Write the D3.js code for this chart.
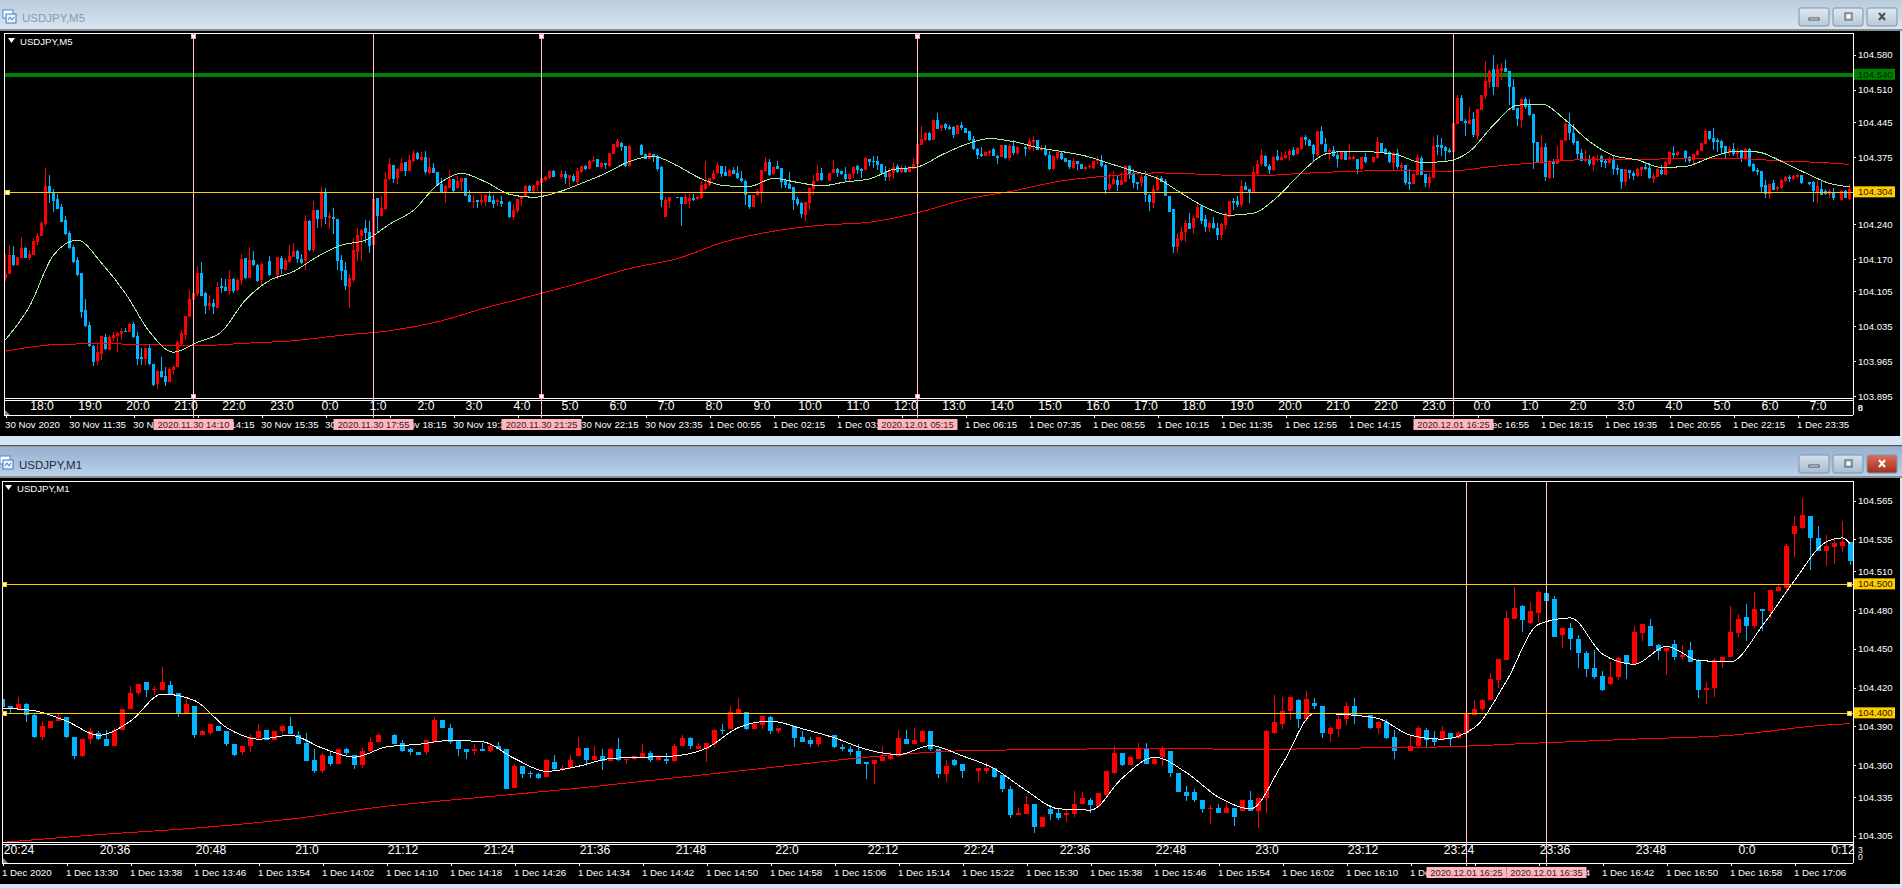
<!DOCTYPE html>
<html>
<head>
<meta charset="utf-8">
<script src="https://cdn.jsdelivr.net/npm/d3@7"></script>
<style>
  html, body { margin: 0; padding: 0; background: #d6e5f3; overflow: hidden; }
  text { font-family: "Liberation Sans", Arial, sans-serif; }
</style>
</head>
<body>
<svg id="chart" width="1902" height="888"></svg>
<script>
// all series are points above 104.000 (304 = 104.304), null = bar with nothing drawn
const m5Open = [
131,140,178,158,173,192,173,178,204,216,240,317,
302,291,275,249,222,194,168,142,68,38,-4,-34,
-20,14,-12,11,16,20,26,24,40,16,-26,-30,
-8,-40,-81,-55,-65,-77,-53,-47,0,18,54,88,
100,142,102,76,82,72,116,114,106,130,108,128,
172,132,168,158,128,null,166,null,138,172,148,164,
174,186,170,166,246,188,268,250,303,253,254,250,
168,148,114,128,184,216,232,224,198,292,256,270,
331,359,333,347,365,347,367,383,369,375,343,353,
345,321,305,313,331,313,325,333,299,285,289,285,
285,297,289,285,287,null,285,254,266,290,295,317,
307,319,323,329,333,347,null,335,341,333,337,325,
345,357,351,367,371,355,363,357,381,395,403,397,
357,null,null,399,381,371,381,377,355,255,287,null,
295,295,281,287,293,291,293,311,319,331,343,357,
345,337,349,343,333,327,299,275,299,305,347,365,
341,357,353,329,321,315,291,283,259,283,311,327,
343,null,327,343,351,347,341,331,341,357,351,349,
371,367,367,361,345,335,343,357,345,353,345,351,
361,399,409,423,409,449,433,441,435,435,421,439,
433,427,411,391,381,377,383,391,377,375,399,373,
397,383,null,395,391,405,409,389,391,379,351,373,
383,373,369,353,367,361,351,355,353,367,369,359,
311,321,329,319,325,357,343,325,323,337,299,283,
309,333,327,297,271,194,208,224,242,232,252,277,
250,232,242,232,218,238,254,287,287,279,317,311,
303,341,361,377,357,349,377,369,373,379,389,381,
391,415,409,399,379,427,401,385,389,379,371,387,
371,371,371,351,375,null,365,373,403,391,385,363,
383,353,359,325,321,339,373,341,323,333,399,399,
395,389,385,441,493,447,441,451,417,469,497,525,
552,515,547,554,547,515,473,449,491,479,461,405,
363,395,333,367,361,369,407,441,423,407,383,367,
369,359,369,377,367,363,371,353,351,325,349,343,
337,349,355,353,331,335,349,339,361,383,379,null,
387,375,369,379,387,401,427,413,409,407,397,383,
391,381,389,371,391,361,349,347,319,301,323,311,
313,327,335,331,335,339,null,325,325,303,311,307,
301,305,null,289,307,291];
const m5Close = [
141,178,158,174,192,173,180,206,216,242,317,302,
287,271,245,220,192,164,138,64,36,-4,-36,-16,
16,-11,14,18,22,26,24,40,14,-30,-30,-8,
-40,-83,-55,-67,-77,-51,-47,3,22,56,90,102,
142,96,76,82,74,114,112,106,130,106,128,170,
132,168,158,126,160,null,138,null,174,150,168,176,
186,170,162,246,188,268,250,303,254,257,250,166,
146,116,132,188,218,228,222,196,290,256,272,331,
361,331,351,363,347,369,383,371,375,345,355,343,
319,305,317,331,307,327,333,297,285,287,285,289,
299,285,280,289,280,null,254,268,290,295,317,307,
319,327,333,335,347,335,null,341,333,339,327,347,
357,351,367,369,355,363,359,383,401,407,395,357,
397,null,null,379,371,383,375,351,289,289,295,null,
294,281,295,293,289,295,319,321,333,343,359,341,
337,349,341,333,327,299,275,299,307,349,365,339,
355,351,325,319,311,289,281,261,285,313,327,343,
329,null,343,351,343,341,331,341,355,349,347,373,
365,366,359,343,335,343,355,345,353,345,355,361,
401,411,423,409,449,431,439,433,431,419,439,433,
423,409,391,379,377,385,387,377,373,399,373,397,
383,395,null,391,407,409,389,391,379,351,377,385,
371,365,355,367,361,351,355,357,367,369,357,309,
321,331,319,329,357,341,323,321,335,299,285,311,
333,325,297,265,194,212,224,242,230,252,275,246,
234,242,232,218,240,258,287,283,279,317,309,303,
345,361,379,357,349,375,369,375,379,387,379,393,
415,409,397,381,427,401,385,389,377,371,385,369,
375,375,351,375,365,null,375,405,385,381,365,383,
355,359,323,321,341,375,339,323,335,397,395,393,
387,385,443,493,447,443,449,419,471,499,527,547,
515,552,554,545,515,469,451,491,475,459,403,365,
395,335,367,361,371,409,441,423,403,381,367,371,
361,375,371,365,363,371,351,349,325,351,343,337,
351,355,351,333,337,351,341,365,385,379,385,null,
373,367,381,387,403,427,411,405,405,393,383,391,
381,387,371,391,357,347,345,315,301,321,309,315,
329,335,331,337,339,323,null,321,307,317,299,301,
307,293,null,307,293,311];
const m5High = [
180,198,196,175,214,194,188,212,222,246,352,339,
310,301,280,257,226,198,174,142,90,44,-2,0,
16,20,18,24,24,32,32,41,44,24,-8,-8,
-2,-40,-53,-27,-46,-46,-42,7,28,56,108,108,
156,164,104,98,90,124,132,130,148,132,132,180,
172,194,186,160,164,null,176,null,174,176,172,198,
202,188,180,258,248,286,268,315,313,262,272,250,
178,164,140,212,232,230,248,246,309,292,297,345,
373,359,353,373,365,379,389,385,385,387,373,363,
345,333,319,349,331,337,333,333,309,299,289,301,
301,307,299,291,297,null,287,280,290,297,319,319,
319,329,339,337,349,349,null,349,347,339,341,353,
357,359,369,377,371,365,363,383,401,411,405,397,
399,null,null,401,381,383,381,379,357,295,295,null,
295,295,301,301,301,297,327,367,333,349,365,357,
357,351,355,357,347,329,299,299,311,349,375,371,
357,367,353,331,345,315,295,285,285,313,339,359,
353,null,343,369,353,347,355,343,357,359,353,375,
371,377,377,361,357,353,363,361,359,357,357,373,
405,437,425,425,449,463,439,443,439,437,439,445,
433,427,417,393,395,387,389,393,379,399,399,401,
409,397,null,397,413,417,409,399,399,387,377,389,
387,373,369,373,367,361,357,361,367,377,379,361,
343,347,337,345,359,359,351,325,341,347,301,319,
339,337,331,297,271,222,234,248,262,258,283,279,
258,246,254,242,242,264,287,293,297,329,325,311,
357,369,391,379,361,377,389,385,387,391,395,395,
415,419,411,401,427,437,413,393,397,387,387,387,
401,379,371,375,383,null,375,415,403,393,387,385,
391,365,359,351,343,379,377,341,343,415,419,413,
397,393,443,499,499,451,475,465,471,499,568,549,
580,562,564,570,547,532,473,493,495,491,461,405,
419,403,369,371,397,409,447,463,441,407,391,389,
379,377,379,379,371,377,377,359,351,351,349,347,
353,355,365,363,343,353,359,367,387,397,387,null,
389,377,381,391,403,431,427,433,413,409,397,397,
403,393,389,393,393,363,353,347,329,321,329,317,
331,337,339,339,341,339,null,325,327,329,329,311,
311,313,null,309,309,321];
const m5Low = [
125,140,156,157,173,172,168,178,198,216,236,283,
265,271,245,218,190,162,136,52,34,-6,-44,-42,
-32,-12,-12,6,-16,8,24,24,12,-42,-42,-42,
-42,-85,-91,-69,-85,-77,-63,-47,-2,8,54,68,
96,96,60,66,60,72,101,106,98,102,106,118,
130,132,156,124,116,null,136,null,130,140,148,162,
174,162,160,148,186,184,232,234,240,230,220,148,
128,108,72,124,166,166,202,182,198,224,256,268,
329,323,321,347,337,347,365,369,367,341,341,343,
319,305,283,313,303,311,307,297,285,272,272,278,
276,285,272,276,274,null,252,248,262,276,295,305,
301,307,319,327,331,335,null,331,321,315,325,319,
343,349,351,365,355,351,351,355,381,393,387,355,
357,null,null,379,371,371,365,347,275,255,272,null,
294,236,281,272,287,289,291,309,317,329,341,335,
337,335,341,331,325,279,271,275,297,283,345,337,
339,351,313,313,311,269,277,253,246,269,299,327,
327,null,327,343,335,339,327,325,333,341,333,349,
357,353,349,341,327,327,331,343,343,343,345,351,
361,399,407,407,409,431,427,429,429,413,421,429,
423,407,389,371,375,377,377,377,361,375,371,367,
379,379,null,377,389,387,389,387,377,349,349,369,
369,365,351,351,349,351,349,351,351,361,355,301,
307,319,307,319,325,331,313,309,315,285,267,273,
307,325,297,265,182,182,206,204,230,220,252,240,
224,224,230,208,208,230,254,269,275,275,309,283,
303,339,357,355,341,347,367,367,371,367,377,379,
389,399,397,367,375,399,385,367,375,355,369,369,
369,367,341,349,363,null,363,371,383,379,363,349,
351,347,319,309,321,339,339,315,313,333,379,377,
367,383,385,441,447,417,441,415,409,469,491,513,
499,515,530,545,479,469,437,435,471,457,351,363,
363,327,330,333,361,369,407,409,399,371,367,365,
357,347,365,355,353,361,339,339,311,317,331,329,
335,337,349,331,323,335,339,339,359,373,377,null,
365,363,361,377,387,401,409,389,385,381,371,377,
377,371,365,369,355,345,339,303,293,291,309,307,
311,325,325,329,331,321,null,319,285,283,299,299,
293,289,null,287,293,289];

const m5FastBars = [...d3.range(0, 457, 6), 461];
const m5Fast = [8,75,178,208,162,101,24,-17,3,24,88,127,145,175,198,208,240,268,319,342,325,300,294,304,322,342,
366,376,357,331,317,316,332,324,317,325,331,350,355,379,400,412,406,394,386,377,362,347,332,302,274,258,
262,295,344,381,387,385,379,364,366,386,439,479,481,449,406,378,369,354,356,373,386,385,366,343,322,315];
const m5SlowBars = [...d3.range(0, 457, 12), 461];
const m5Slow = [-15,-2,0,-2,-4,1,6,17,26,44,72,97,123,151,171,205,226,238,244,263,290,307,327,337,343,340,
337,342,346,348,346,356,364,370,370,372,372,367,363,360];

const m1Open = [
411,406,403,407,399,382,389,394,397,382,367,380,
385,380,375,387,403,416,424,418,418,422,416,400,
406,383,385,390,386,376,370,375,381,387,379,386,
390,383,377,364,355,367,361,372,368,360,371,378,
null,383,377,372,370,370,378,395,389,379,372,371,
372,371,375,372,342,359,354,353,351,362,357,358,
367,373,364,367,363,372,364,365,366,369,364,365,
363,375,381,372,372,376,387,388,400,401,388,391,
397,386,null,390,382,379,376,null,383,374,372,371,
362,361,363,365,367,380,376,378,386,372,353,364,
361,null,355,355,358,352,341,321,322,330,312,326,
323,321,322,330,333,328,337,354,369,360,365,372,
361,366,371,354,339,339,333,326,327,323,327,324,
333,324,334,385,392,402,410,396,408,406,384,388,
396,406,null,399,389,393,382,null,371,375,387,380,
379,385,381,385,399,403,410,426,441,473,483,470,
478,493,489,461,466,458,447,435,429,423,428,445,
438,462,468,453,448,454,444,449,441,418,420,440,
444,462,475,468,481,479,495,497,539,544,553,536,
526,529,530,533];
const m1Close = [
405,403,407,399,382,390,394,397,382,367,380,386,
380,375,387,403,416,423,418,419,424,414,400,407,
383,386,392,386,376,368,375,382,386,379,386,390,
384,376,363,355,368,361,372,369,360,371,378,383,
null,376,371,370,368,379,395,389,378,372,370,372,
371,375,372,341,359,353,353,350,364,357,358,364,
373,364,367,363,372,364,365,367,369,364,366,363,
375,381,375,375,377,387,386,401,403,388,392,398,
386,389,null,381,378,376,382,null,374,372,370,361,
361,364,366,368,381,376,379,386,372,353,359,360,
355,null,358,358,351,341,321,323,330,312,320,322,
319,323,330,334,329,338,355,369,360,366,372,361,
365,372,354,339,336,333,326,327,323,327,320,333,
324,334,386,393,402,413,396,411,406,385,389,396,
406,398,null,389,393,381,371,null,375,389,379,378,
386,381,385,400,403,410,427,442,474,482,472,479,
494,487,459,466,458,447,434,428,418,428,443,438,
463,469,452,448,451,444,445,440,418,420,441,444,
463,473,468,481,479,496,498,530,545,554,536,526,
530,532,533,518];
const m1High = [
413,406,413,408,400,394,394,400,397,382,380,389,
386,387,389,403,421,423,424,421,436,425,416,411,
406,387,392,390,386,376,375,384,392,387,386,391,
397,386,385,372,369,371,372,373,368,373,382,385,
null,384,379,373,370,379,397,395,392,379,372,376,
377,376,378,372,361,359,355,354,365,368,360,368,
382,373,375,372,373,381,365,367,376,371,368,369,
376,383,382,377,377,388,392,406,412,401,393,398,
398,389,null,390,386,382,382,null,383,376,375,376,
362,364,375,370,387,387,389,387,386,372,364,365,
361,null,358,362,358,352,344,327,336,330,320,329,
327,326,340,339,334,338,355,375,369,367,377,377,
366,375,371,354,344,341,333,329,330,331,327,333,
340,334,387,414,413,413,411,417,412,406,390,398,
409,412,null,399,394,396,387,null,383,390,389,386,
390,385,386,400,410,411,431,442,479,498,484,486,
496,500,491,466,470,461,448,449,433,440,444,445,
468,469,473,454,451,457,453,455,442,424,443,444,
483,477,485,494,481,496,500,531,553,567,553,545,
538,534,549,533];
const m1Low = [
405,400,403,393,381,379,389,394,381,365,366,376,
379,375,375,387,403,414,413,414,418,414,397,400,
381,383,383,386,375,367,368,370,379,379,379,385,
384,376,363,354,354,359,361,368,357,358,371,378,
null,376,370,368,368,368,378,389,376,367,365,368,
371,370,372,341,342,350,350,349,351,356,355,357,
367,359,364,356,363,363,361,364,366,362,364,361,
362,375,372,372,362,373,384,388,400,387,388,388,
384,385,null,374,378,374,374,null,373,371,368,361,
349,345,363,364,366,376,376,378,371,350,347,359,
350,null,347,353,350,339,319,321,322,307,312,317,
317,316,320,330,323,328,337,353,359,360,365,361,
361,359,351,339,332,331,323,314,323,323,313,324,
324,311,323,384,388,395,389,393,403,381,378,382,
391,392,null,388,384,380,365,null,371,374,374,375,
379,375,380,384,399,402,410,420,441,473,463,469,
471,487,459,451,449,435,428,427,417,422,426,427,
438,456,452,441,430,441,441,440,412,407,413,435,
444,459,456,466,464,474,495,493,521,543,511,526,
514,516,525,515];

const m1FastBars = [...d3.range(0, 229, 4), 230, 231];
const m1Fast = [404,402,394,383,394,415,410,389,380,383,373,366,374,376,379,378,365,355,359,365,
366,367,373,389,394,388,381,372,368,375,367,357,340,326,325,350,366,354,335,326,
361,400,399,396,383,380,389,425,469,474,446,438,452,441,440,468,503,533,536,531];
const m1SlowBars = [...d3.range(0, 229, 12), 231];
const m1Slow = [300,306,311,318,328,335,342,350,358,366,371,372,373,372,373,374,377,380,383,391,392];

const m5PriceTicks = [104.58, 104.51, 104.445, 104.375, 104.24, 104.17, 104.105, 104.035, 103.965, 103.895];
const m1PriceTicks = [104.565, 104.535, 104.51, 104.48, 104.45, 104.42, 104.39, 104.36, 104.335, 104.305];
const m5HourLabels = ['18:0','19:0','20:0','21:0','22:0','23:0','0:0','1:0','2:0','3:0','4:0','5:0','6:0','7:0','8:0','9:0','10:0','11:0','12:0',
  '13:0','14:0','15:0','16:0','17:0','18:0','19:0','20:0','21:0','22:0','23:0','0:0','1:0','2:0','3:0','4:0','5:0','6:0','7:0'];
const m1HourLabels = ['20:24','20:36','20:48','21:0','21:12','21:24','21:36','21:48','22:0','22:12','22:24','22:36','22:48','23:0','23:12','23:24','23:36','23:48','0:0','0:12'];
const m5DateLabels = ['30 Nov 2020','30 Nov 11:35','30 Nov 12:55','30 Nov 14:15','30 Nov 15:35','30 Nov 16:55','30 Nov 18:15','30 Nov 19:35','30 Nov 20:55','30 Nov 22:15','30 Nov 23:35',
  '1 Dec 00:55','1 Dec 02:15','1 Dec 03:35','1 Dec 04:55','1 Dec 06:15','1 Dec 07:35','1 Dec 08:55','1 Dec 10:15','1 Dec 11:35','1 Dec 12:55','1 Dec 14:15','1 Dec 15:35','1 Dec 16:55','1 Dec 18:15','1 Dec 19:35','1 Dec 20:55','1 Dec 22:15','1 Dec 23:35'];
const m1DateLabels = ['1 Dec 2020','1 Dec 13:30','1 Dec 13:38','1 Dec 13:46','1 Dec 13:54','1 Dec 14:02','1 Dec 14:10','1 Dec 14:18','1 Dec 14:26','1 Dec 14:34','1 Dec 14:42','1 Dec 14:50','1 Dec 14:58',
  '1 Dec 15:06','1 Dec 15:14','1 Dec 15:22','1 Dec 15:30','1 Dec 15:38','1 Dec 15:46','1 Dec 15:54','1 Dec 16:02','1 Dec 16:10','1 Dec 16:18','1 Dec 16:26','1 Dec 16:34','1 Dec 16:42','1 Dec 16:50','1 Dec 16:58','1 Dec 17:06'];
const m5Cursors = [47, 92, 134, 228, 362];
const m5CursorLabels = ['2020.11.30 14:10','2020.11.30 17:55','2020.11.30 21:25','2020.12.01 05:15','2020.12.01 16:25'];
const m5Handles = [47, 134, 228];
const m1Cursors = [183, 193];
const m1CursorLabels = ['2020.12.01 16:25','2020.12.01 16:35'];

const RED = '#ff0000', BLUE = '#00b4ff', GOLD = '#ffcc00', GREEN = '#007f00', PINK = '#ffc0cb';
const pts = v => 104 + v / 1000;

const svg = d3.select('#chart');
const defs = svg.append('defs');
function gradient(id, stops) {
  const g = defs.append('linearGradient').attr('id', id).attr('x1', 0).attr('x2', 0).attr('y1', 0).attr('y2', 1);
  stops.forEach((c, i) => g.append('stop').attr('offset', i / (stops.length - 1)).attr('stop-color', c));
}
gradient('titleIdle', ['#b9cbdb', '#d8e6f3']);
gradient('titleActive', ['#97b1cf', '#b9d1e9']);
gradient('btnIdle', ['#dfe8f0', '#b9c8d6']);
gradient('btnActive', ['#d5e1ec', '#a9bccf']);
gradient('btnClose', ['#d9705c', '#a52c1c']);

function drawFrame(o) {
  // title bar
  svg.append('rect').attr('x', 0).attr('y', o.titleY).attr('width', 1902).attr('height', o.titleH).attr('fill', `url(#${o.titleFill})`);
  svg.append('rect').attr('x', 0).attr('y', o.titleY + o.titleH).attr('width', 1902).attr('height', 2).attr('fill', '#8a8f95');
  const ic = svg.append('g').attr('transform', `translate(${o.iconX},${o.titleY + o.iconDy})`);
  ic.append('rect').attr('width', 10).attr('height', 8).attr('fill', '#fff').attr('stroke', '#4a86c8');
  ic.append('rect').attr('x', 3).attr('y', 4).attr('width', 10).attr('height', 9).attr('fill', '#eaf3fb').attr('stroke', '#3d7cc0');
  ic.append('path').attr('d', 'M5 10 L7 7 L9 10 L11 7').attr('fill', 'none').attr('stroke', '#3d7cc0');
  svg.append('text').attr('x', o.titleTextX).attr('y', o.titleY + o.titleTextDy).attr('font-size', 11.5).attr('fill', o.titleColor).text(o.title);
  // window buttons
  [[1799, 'min'], [1833, 'max'], [1867, 'close']].forEach(([bx, kind]) => {
    const g = svg.append('g').attr('transform', `translate(${bx},${o.btnY})`);
    g.append('rect').attr('width', 30).attr('height', 18).attr('rx', 2).attr('fill', kind === 'close' && o.active ? 'url(#btnClose)' : o.active ? 'url(#btnActive)' : 'url(#btnIdle)').attr('stroke', '#7f93a7');
    if (kind === 'min') g.append('rect').attr('x', 10).attr('y', 10).attr('width', 10).attr('height', 2).attr('fill', '#fff').attr('stroke', '#44525f');
    if (kind === 'max') {
      g.append('rect').attr('x', 12).attr('y', 5).attr('width', 7).attr('height', 7).attr('fill', 'none').attr('stroke', '#44525f');
      g.append('rect').attr('x', 14).attr('y', 7).attr('width', 3).attr('height', 3).attr('fill', '#fff');
    }
    if (kind === 'close') g.append('path').attr('d', 'M12 5 L18 12 M18 5 L12 12').attr('stroke', o.active ? '#fff' : '#44525f').attr('stroke-width', 2);
  });
  // black client area
  svg.append('rect').attr('x', 0).attr('y', o.bgY).attr('width', 1900).attr('height', o.bgH).attr('fill', '#000');
}

function drawChart(o) {
  const g = svg.append('g').attr('shape-rendering', 'crispEdges');
  const clipId = 'clip' + o.name;
  defs.append('clipPath').attr('id', clipId).append('rect').attr('x', o.left).attr('y', o.top).attr('width', o.right - o.left).attr('height', o.bottom - o.top);
  const plot = g.append('g').attr('clip-path', `url(#${clipId})`);

  const x = d3.scaleLinear().domain([0, o.open.length - 1]).range(o.xRange);
  const y = d3.scaleLinear().domain(o.yDomain).range(o.yRange);
  const bars = d3.range(o.open.length).filter(i => o.open[i] !== null);

  if (o.thickLevel) {
    plot.append('line').attr('x1', o.left).attr('x2', o.right).attr('y1', y(o.thickLevel)).attr('y2', y(o.thickLevel))
      .attr('stroke', GREEN).attr('stroke-width', 4);
  }

  const barColor = i => o.close[i] >= o.open[i] ? RED : BLUE;
  plot.selectAll('line.wick').data(bars).join('line').attr('class', 'wick')
    .attr('x1', x).attr('x2', x)
    .attr('y1', i => y(pts(o.high[i]))).attr('y2', i => y(pts(o.low[i])))
    .attr('stroke', barColor);
  plot.selectAll('rect.body').data(bars).join('rect').attr('class', 'body')
    .attr('x', i => x(i) - o.bodyW / 2).attr('width', o.bodyW)
    .attr('y', i => y(pts(Math.max(o.open[i], o.close[i]))))
    .attr('height', i => Math.max(1, Math.abs(y(pts(o.open[i])) - y(pts(o.close[i])))))
    .attr('fill', barColor);

  const lineFor = (bs, vals) => d3.line().curve(d3.curveMonotoneX).x((d, i) => x(bs[i])).y(d => y(pts(d)))(vals);
  plot.append('path').attr('d', lineFor(o.slowBars, o.slow)).attr('fill', 'none').attr('stroke', RED).attr('stroke-width', 1);
  plot.append('path').attr('d', lineFor(o.fastBars, o.fast)).attr('fill', 'none').attr('stroke', o.fastColor).attr('stroke-width', 1);

  o.levels.forEach(p => {
    plot.append('line').attr('x1', o.left).attr('x2', o.right).attr('y1', y(p)).attr('y2', y(p)).attr('stroke', GOLD);
  });

  // frame
  g.append('rect').attr('x', o.left).attr('y', o.top).attr('width', o.right - o.left).attr('height', o.bottom - o.top).attr('fill', 'none').attr('stroke', '#fff');
  g.append('line').attr('x1', o.left).attr('x2', o.right).attr('y1', o.bottom + 2).attr('y2', o.bottom + 2).attr('stroke', '#fff');
  g.append('line').attr('x1', o.left).attr('x2', o.right).attr('y1', o.timeLine).attr('y2', o.timeLine).attr('stroke', '#fff');
  g.append('line').attr('x1', o.left).attr('x2', o.left).attr('y1', o.bottom).attr('y2', o.timeLine).attr('stroke', '#fff');
  g.append('line').attr('x1', o.right).attr('x2', o.right).attr('y1', o.bottom).attr('y2', o.timeLine).attr('stroke', '#fff');
  svg.append('path').attr('d', `M${o.left + 1} ${o.timeLine - 5} L${o.left + 6} ${o.timeLine} L${o.left + 1} ${o.timeLine} Z`).attr('fill', '#8b8b8b');

  // price axis
  const yAxis = svg.append('g').attr('transform', `translate(${o.right},0)`)
    .call(d3.axisRight(y).tickValues(o.priceTicks).tickFormat(d3.format('.3f')).tickSize(3).tickPadding(2));
  yAxis.select('.domain').remove();
  yAxis.selectAll('line').attr('stroke', '#fff').attr('shape-rendering', 'crispEdges');
  yAxis.selectAll('text').attr('fill', '#fff').attr('font-size', 9.6).style('font-family', '"Liberation Sans", Arial, sans-serif');

  // hour row
  const hourAxis = svg.append('g').attr('transform', `translate(0,${o.bottom + 2})`)
    .call(d3.axisBottom(x).tickValues(o.hourBars).tickFormat((d, i) => o.hourLabels[i]).tickSize(0).tickPadding(o.hourPad));
  hourAxis.select('.domain').remove();
  hourAxis.selectAll('text').attr('fill', '#fff').attr('font-size', 12.2).style('font-family', '"Liberation Sans", Arial, sans-serif');

  // date row
  const dateAxis = svg.append('g').attr('transform', `translate(0,${o.timeLine})`)
    .call(d3.axisBottom(x).tickValues(o.dateBars).tickFormat((d, i) => o.dateLabels[i]).tickSize(3).tickPadding(3));
  dateAxis.select('.domain').remove();
  dateAxis.selectAll('line').attr('stroke', '#fff').attr('shape-rendering', 'crispEdges');
  dateAxis.selectAll('text').attr('fill', '#fff').attr('font-size', 9.7).attr('text-anchor', 'start').attr('x', -1)
    .style('font-family', '"Liberation Sans", Arial, sans-serif');

  // vertical cursors and their time boxes
  o.cursors.forEach((c, i) => {
    g.append('line').attr('x1', x(c)).attr('x2', x(c)).attr('y1', o.top).attr('y2', o.timeLine + 3).attr('stroke', PINK);
    const tag = svg.append('g').attr('transform', `translate(${x(c)},${o.tagY})`);
    tag.append('rect').attr('x', -40).attr('width', 80).attr('height', 11).attr('fill', '#ffb6c1');
    tag.append('text').attr('text-anchor', 'middle').attr('y', 9).attr('font-size', 9.3).attr('fill', '#3a2020').text(o.cursorLabels[i]);
  });
  (o.handles || []).forEach(c => {
    [o.top + 3, o.bottom - 2].forEach(hy => {
      svg.append('rect').attr('x', x(c) - 2).attr('y', hy - 2).attr('width', 4).attr('height', 4).attr('fill', '#fff').attr('stroke', '#ffa8b8').attr('shape-rendering', 'crispEdges');
    });
  });

  // level boxes on the price axis
  o.tags.forEach(t => {
    const ty = y(t.price);
    svg.append('rect').attr('x', o.right + 1).attr('y', ty - 6).attr('width', 41).attr('height', 11).attr('fill', t.fill);
    svg.append('text').attr('x', o.right + 5).attr('y', ty + 3).attr('font-size', 9.6).attr('fill', t.ink).text(d3.format('.3f')(t.price));
  });
  o.levelHandles.forEach(h => {
    svg.append('rect').attr('x', h.x - 2).attr('y', y(h.price) - 2).attr('width', 4).attr('height', 4)
      .attr('fill', '#fff').attr('stroke', GOLD).attr('shape-rendering', 'crispEdges');
  });

  // symbol caption
  svg.append('path').attr('d', `M${o.capX - 12} ${o.capY - 3} h7 l-3.5 5 Z`).attr('fill', '#fff');
  svg.append('text').attr('x', o.capX).attr('y', o.capY + 3.5).attr('font-size', 9.6).attr('fill', '#fff').text(o.title);

  o.corner.forEach((ch, i) => {
    svg.append('text').attr('x', o.right + 5).attr('y', o.cornerY[i]).attr('font-size', 8.5).attr('fill', '#fff').text(ch);
  });
}

// upper window
drawFrame({ titleY: 0, titleH: 29, titleFill: 'titleIdle', iconX: 3, iconDy: 10, titleTextX: 22, titleTextDy: 22, titleColor: '#8b9bab',
  title: 'USDJPY,M5', btnY: 8, active: false, bgY: 31, bgH: 405 });
drawChart({
  name: 'M5', title: 'USDJPY,M5', left: 4, right: 1853, top: 33, bottom: 398, timeLine: 415,
  open: m5Open, close: m5Close, high: m5High, low: m5Low, bodyW: 3,
  xRange: [5.5, 1849.5], yDomain: [103.895, 104.58], yRange: [396, 54.9],
  slowBars: m5SlowBars, slow: m5Slow, fastBars: m5FastBars, fast: m5Fast, fastColor: '#a8f0a0',
  thickLevel: 104.54, levels: [104.304], priceTicks: m5PriceTicks,
  hourBars: d3.range(9, 462, 12), hourLabels: m5HourLabels, hourPad: 1,
  dateBars: d3.range(0, 462, 16), dateLabels: m5DateLabels,
  cursors: m5Cursors, cursorLabels: m5CursorLabels, handles: m5Handles, tagY: 419,
  tags: [{ price: 104.54, fill: GREEN, ink: '#002a00' }, { price: 104.304, fill: GOLD, ink: '#2a2000' }],
  levelHandles: [{ x: 7.5, price: 104.304 }],
  capX: 20, capY: 41, corner: ['8', '0'], cornerY: [411, 411]
});

// lower window
svg.append('rect').attr('x', 0).attr('y', 445).attr('width', 1902).attr('height', 1.5).attr('fill', '#4f5357');
drawFrame({ titleY: 447, titleH: 29, titleFill: 'titleActive', iconX: 0, iconDy: 9, titleTextX: 19, titleTextDy: 22, titleColor: '#1f2c3a',
  title: 'USDJPY,M1', btnY: 455, active: true, bgY: 478, bgH: 406 });
drawChart({
  name: 'M1', title: 'USDJPY,M1', left: 2, right: 1853, top: 481, bottom: 842, timeLine: 863,
  open: m1Open, close: m1Close, high: m1High, low: m1Low, bodyW: 5,
  xRange: [2.5, 1850.5], yDomain: [104.305, 104.565], yRange: [835.9, 500.5],
  slowBars: m1SlowBars, slow: m1Slow, fastBars: m1FastBars, fast: m1Fast, fastColor: '#ffffff',
  levels: [104.5, 104.4], priceTicks: m1PriceTicks,
  hourBars: d3.range(2, 232, 12), hourLabels: m1HourLabels, hourPad: 1,
  dateBars: d3.range(0, 232, 8), dateLabels: m1DateLabels,
  cursors: m1Cursors, cursorLabels: m1CursorLabels, tagY: 867,
  tags: [{ price: 104.5, fill: GOLD, ink: '#2a2000' }, { price: 104.4, fill: GOLD, ink: '#2a2000' }],
  levelHandles: [{ x: 4.5, price: 104.5 }, { x: 4.5, price: 104.4 }, { x: 1849.5, price: 104.5 }, { x: 1849.5, price: 104.4 }],
  capX: 17, capY: 488, corner: ['3', '0'], cornerY: [853, 860]
});
</script>
</body>
</html>
